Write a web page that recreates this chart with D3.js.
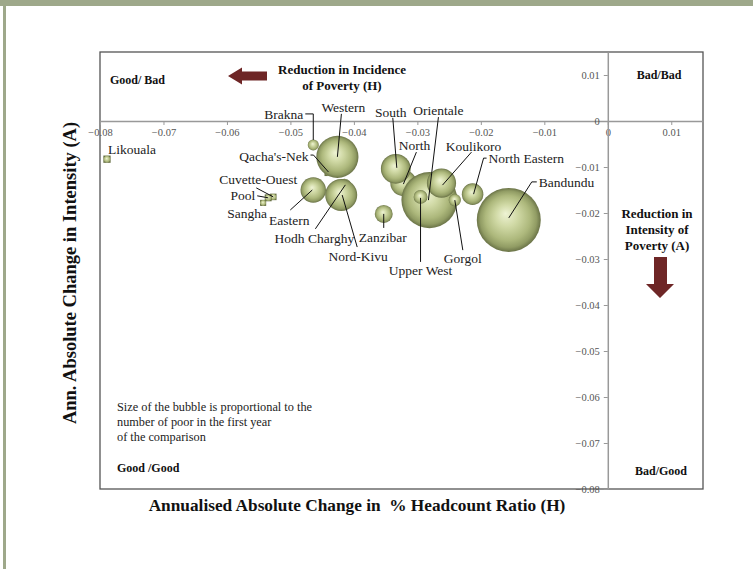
<!DOCTYPE html>
<html>
<head>
<meta charset="utf-8">
<script src="https://cdn.jsdelivr.net/npm/d3@7"></script>
<style>
  body { margin: 0; background: #fff; }
  svg { display: block; font-family: "Liberation Serif", "DejaVu Serif", serif; }
</style>
</head>
<body>
<div id="chart"></div>
<script>
// regions, in drawing order (back to front)
const regions = ["Qacha's-Nek", "Hodh Charghy", "North", "Orientale", "Western", "Bandundu",
  "Nord-Kivu", "South", "Koulikoro", "Eastern", "North Eastern", "Zanzibar", "Upper West",
  "Gorgol", "Brakna", "Likouala", "Cuvette-Ouest", "Pool", "Sangha"];
// annualised absolute change in headcount ratio (H)
const hChange = [-0.0440, -0.0415, -0.0322, -0.0281, -0.0426, -0.0156,
  -0.0420, -0.0334, -0.0262, -0.0464, -0.0213, -0.0353, -0.0295,
  -0.0241, -0.0464, -0.0789, -0.0527, -0.0535, -0.0543];
// annualised absolute change in intensity (A)
const aChange = [-0.0111, -0.0141, -0.0135, -0.0172, -0.0078, -0.0215,
  -0.0161, -0.0104, -0.0135, -0.0150, -0.0159, -0.0202, -0.0165,
  -0.0172, -0.0052, -0.0083, -0.0165, -0.0167, -0.0178];
// number of poor in first year (thousands) -> bubble size
const poor = [60, 300, 1000, 4600, 2600, 6000,
  1500, 1300, 1250, 950, 680, 470, 280,
  220, 180, 50, 40, 45, 35];

const xTicks = [-0.08, -0.07, -0.06, -0.05, -0.04, -0.03, -0.02, -0.01, 0, 0.01];
const yTicks = [0.01, 0, -0.01, -0.02, -0.03, -0.04, -0.05, -0.06, -0.07, -0.08];

// label placement relative to bubble centre: text offset, anchor, leader path
const labelLayout = {
  "Likouala":      { t: [1, -10], a: "start", p: null },
  "Brakna":        { t: [-10, -31], a: "end", p: [[-8, -31], [0, -31], [0, -5]] },
  "Western":       { t: [6, -50], a: "middle", p: [[4, -43], [0, 0]] },
  "South":         { t: [-5, -57], a: "middle", p: [[-3, -51], [1, -1]] },
  "Orientale":     { t: [9, -90], a: "middle", p: [[9, -83], [-1, 0]] },
  "North":         { t: [11, -38], a: "middle", p: [[13, -31], [0, 1]] },
  "Koulikoro":     { t: [32, -37], a: "middle", p: [[30, -31], [1, 2]] },
  "North Eastern": { t: [16, -36], a: "start", p: [[14, -36], [11, -36], [1, 0]] },
  "Bandundu":      { t: [30, -38], a: "start", p: [[28, -38], [23, -38], [0, -2]] },
  "Qacha's-Nek":   { t: [-20, -16], a: "end", p: [[-18, -17], [-15, -17], [0, 0]] },
  "Cuvette-Ouest": { t: [-15, -18], a: "middle", p: [[-17, -9], [0, 0]] },
  "Pool":          { t: [-13, -3], a: "end", p: [[-11, -2], [0, 0]] },
  "Sangha":        { t: [-16, 10], a: "middle", p: null },
  "Eastern":       { t: [-24, 30], a: "middle", p: [[-23, 20], [-1, 0]] },
  "Hodh Charghy":  { t: [-30, 52], a: "middle", p: [[-29, 43], [1, -1]] },
  "Zanzibar":      { t: [-1, 23], a: "middle", p: [[0, 14], [0, 0]] },
  "Nord-Kivu":     { t: [17, 61], a: "middle", p: [[16, 52], [1, 0]] },
  "Upper West":    { t: [0, 73], a: "middle", p: [[0, 65], [0, 1]] },
  "Gorgol":        { t: [8, 58], a: "middle", p: [[8, 50], [0, 0]] }
};

const W = 753, H = 569;
const plot = { left: 100, right: 703, top: 52, bottom: 489 };

const svg = d3.select("#chart").append("svg")
  .attr("width", W)
  .attr("height", H);

// slide frame
svg.append("rect").attr("x", 0).attr("y", 0).attr("width", W).attr("height", 6).attr("fill", "#9ea88a");
svg.append("rect").attr("x", 3).attr("y", 0).attr("width", 3).attr("height", H).attr("fill", "#9ea88a");

const defs = svg.append("defs");
const grad = defs.append("radialGradient")
  .attr("id", "bub")
  .attr("cx", "50%").attr("cy", "50%").attr("r", "50%")
  .attr("fx", "45%").attr("fy", "40%");
[[0, "#eef3d4"], [0.35, "#d0d9a5"], [0.7, "#adb87c"], [0.88, "#919c64"], [1, "#6a7347"]]
  .forEach(([o, c]) => grad.append("stop").attr("offset", o).attr("stop-color", c));

// scales
const x = d3.scaleLinear().domain([-0.08, 0.015]).range([plot.left, plot.right]);
const y = d3.scaleLinear().domain([-0.08, 0.015]).range([plot.bottom, plot.top]);
const r = d3.scaleSqrt().domain([0, 6000]).range([0, 32]);

// plot area border
svg.append("rect")
  .attr("x", plot.left).attr("y", plot.top)
  .attr("width", plot.right - plot.left).attr("height", plot.bottom - plot.top)
  .attr("fill", "none").attr("stroke", "#555").attr("stroke-width", 1.3);

// axes through the origin
const fmt = d => d === 0 ? "0" : d3.format(".2f")(d);
const xAxis = svg.append("g")
  .attr("transform", `translate(0,${y(0)})`)
  .call(d3.axisBottom(x).tickValues(xTicks).tickSize(4).tickSizeOuter(0).tickPadding(4).tickFormat(fmt));
const yAxis = svg.append("g")
  .attr("transform", `translate(${x(0)},0)`)
  .call(d3.axisLeft(y).tickValues(yTicks).tickSize(4).tickSizeOuter(0).tickPadding(4).tickFormat(fmt));
[xAxis, yAxis].forEach(g => {
  g.select(".domain").attr("stroke", "#999").attr("stroke-width", 1.5);
  g.selectAll(".tick line").attr("stroke", "#999");
  g.selectAll(".tick text").attr("fill", "#555").style("font-size", "10.5px")
    .style("font-family", "'Liberation Serif', serif");
});

// bubbles
const pts = regions.map((name, i) => ({
  name, hx: hChange[i], ay: aChange[i], poor: poor[i]
}));

const bub = svg.append("g");
pts.forEach(d => {
  const cx = x(d.hx), cy = y(d.ay), rr = r(d.poor);
  if (rr < 4) {
    const s = rr * 2.5;
    bub.append("rect")
      .attr("x", cx - s / 2).attr("y", cy - s / 2)
      .attr("width", s).attr("height", s)
      .attr("fill", "url(#bub)");
  } else {
    bub.append("circle")
      .attr("cx", cx).attr("cy", cy).attr("r", rr)
      .attr("fill", "url(#bub)");
  }
});

// data labels with leader lines
const lab = svg.append("g");
const line = d3.line();
pts.forEach(d => {
  const cx = x(d.hx), cy = y(d.ay), L = labelLayout[d.name];
  if (L.p) {
    lab.append("path")
      .attr("d", line(L.p.map(([dx, dy]) => [cx + dx, cy + dy])))
      .attr("fill", "none").attr("stroke", "#111").attr("stroke-width", 1);
  }
  lab.append("text")
    .attr("x", cx + L.t[0]).attr("y", cy + L.t[1])
    .attr("dy", "0.35em")
    .attr("text-anchor", L.a)
    .attr("fill", "#222")
    .style("font-size", "13.5px")
    .text(d.name);
});

// quadrant labels
const bold = (txt, px, py, size, anchor) => svg.append("text")
  .attr("x", px).attr("y", py).attr("dy", "0.35em")
  .attr("text-anchor", anchor || "start")
  .attr("font-weight", "bold").attr("fill", "#111")
  .style("font-size", size + "px")
  .text(txt);

bold("Good/ Bad", 110, 80, 12);
bold("Bad/Bad", 659, 75, 12, "middle");
bold("Good /Good", 117, 468, 12);
bold("Bad/Good", 661, 471, 12, "middle");
bold("Reduction in Incidence", 342, 69, 13, "middle");
bold("of Poverty (H)", 342, 85, 13, "middle");
bold("Reduction in", 657, 213, 13, "middle");
bold("Intensity of", 657, 229, 13, "middle");
bold("Poverty (A)", 657, 245, 13, "middle");

// arrows
const arrowCol = "#6e2626";
svg.append("path")
  .attr("d", line([[228, 76], [242, 67.5], [242, 71.5], [267, 71.5], [267, 80.5], [242, 80.5], [242, 84.5]]) + "Z")
  .attr("fill", arrowCol);
svg.append("path")
  .attr("d", line([[660, 298], [646, 284], [654, 284], [654, 257], [667, 257], [667, 284], [674, 284]]) + "Z")
  .attr("fill", arrowCol);

// note
["Size of the bubble is proportional to the", "number of poor in the first year", "of the comparison"]
  .forEach((t, i) => svg.append("text")
    .attr("x", 117).attr("y", 407 + i * 15).attr("dy", "0.35em")
    .attr("fill", "#222").style("font-size", "12.3px")
    .text(t));

// axis titles
svg.append("text")
  .attr("x", 357).attr("y", 505).attr("dy", "0.35em")
  .attr("text-anchor", "middle").attr("font-weight", "bold").attr("fill", "#111")
  .style("font-size", "17.3px").style("white-space", "pre")
  .text("Annualised Absolute Change in  % Headcount Ratio (H)");

svg.append("text")
  .attr("transform", "translate(70,273) rotate(-90)")
  .attr("dy", "0.35em")
  .attr("text-anchor", "middle").attr("font-weight", "bold").attr("fill", "#111")
  .style("font-size", "18.5px")
  .text("Ann. Absolute Change in Intensity (A)");
</script>
</body>
</html>
